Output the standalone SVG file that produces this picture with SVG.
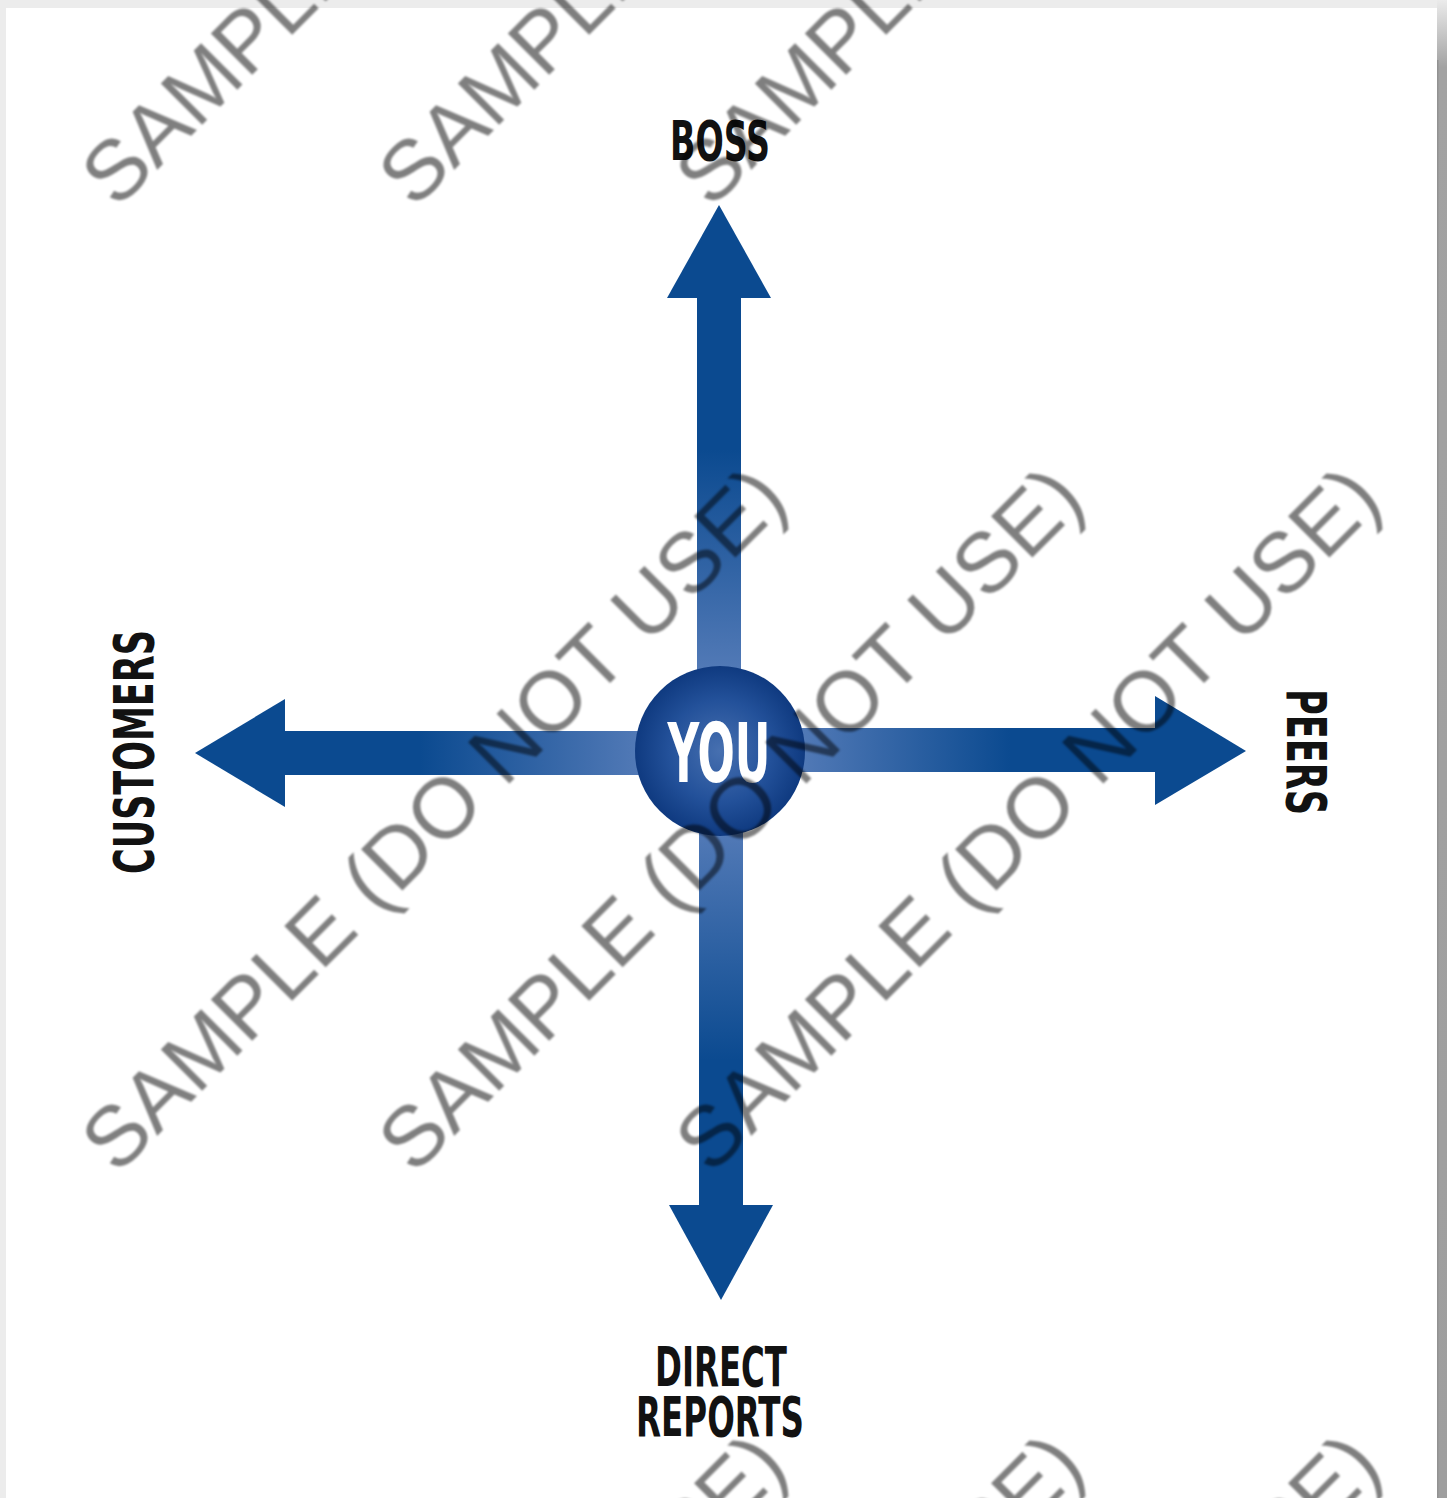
<svg xmlns="http://www.w3.org/2000/svg" width="1447" height="1498" viewBox="0 0 1447 1498">
  <defs>
    <style>
      .lbl { font-family: "Liberation Sans Narrow", "DejaVu Sans Condensed", "Liberation Sans", sans-serif; font-weight: bold; fill: #121212; text-anchor: middle; }
      .you { font-family: "Liberation Sans Narrow", "DejaVu Sans Condensed", "Liberation Sans", sans-serif; font-weight: bold; fill: #ffffff; text-anchor: middle; }
      .wm { font-family: "Liberation Sans", Arial, sans-serif; font-size: 85px; fill: #000000; fill-opacity: 0.5; }
      .head { fill: #0b4a90; }
    </style>
    <linearGradient id="gUp" gradientUnits="userSpaceOnUse" x1="0" y1="668" x2="0" y2="450">
      <stop offset="0" stop-color="#5179b6"/>
      <stop offset="1" stop-color="#0b4a90"/>
    </linearGradient>
    <linearGradient id="gDown" gradientUnits="userSpaceOnUse" x1="0" y1="834" x2="0" y2="1060">
      <stop offset="0" stop-color="#5179b6"/>
      <stop offset="1" stop-color="#0b4a90"/>
    </linearGradient>
    <linearGradient id="gLeft" gradientUnits="userSpaceOnUse" x1="638" y1="0" x2="420" y2="0">
      <stop offset="0" stop-color="#5179b6"/>
      <stop offset="1" stop-color="#0b4a90"/>
    </linearGradient>
    <linearGradient id="gRight" gradientUnits="userSpaceOnUse" x1="802" y1="0" x2="1010" y2="0">
      <stop offset="0" stop-color="#5179b6"/>
      <stop offset="1" stop-color="#0b4a90"/>
    </linearGradient>
    <radialGradient id="gCircle" cx="0.5" cy="0.5" r="0.5">
      <stop offset="0" stop-color="#4770b0"/>
      <stop offset="0.6" stop-color="#23519a"/>
      <stop offset="1" stop-color="#0f3a80"/>
    </radialGradient>
    <linearGradient id="gEdge" x1="0" y1="0" x2="0" y2="1">
      <stop offset="0" stop-color="#ebebeb"/>
      <stop offset="0.045" stop-color="#a2a2a2"/>
      <stop offset="1" stop-color="#9e9e9e"/>
    </linearGradient>
    <filter id="soft" x="-5%" y="-5%" width="110%" height="110%">
      <feGaussianBlur stdDeviation="1.1"/>
    </filter>
    <clipPath id="clipBottom">
      <rect x="0" y="1440" width="1447" height="60"/>
    </clipPath>
  </defs>

  <!-- page -->
  <rect x="0" y="0" width="1447" height="1498" fill="#ececec"/>
  <rect x="6" y="8" width="1431" height="1490" fill="#ffffff"/>
  <rect x="1437" y="0" width="10" height="1498" fill="url(#gEdge)"/>
  <rect x="1437" y="60" width="1.5" height="1438" fill="#929292"/>

  <!-- connectors (arrows) -->
  <g id="connectors">
    <g id="arrow-boss">
      <rect x="697" y="296" width="44" height="400" fill="url(#gUp)"/>
      <polygon class="head" points="719,205 771,298 667,298"/>
    </g>
    <g id="arrow-direct-reports">
      <rect x="699" y="800" width="44" height="407" fill="url(#gDown)"/>
      <polygon class="head" points="721,1300 773,1205 669,1205"/>
    </g>
    <g id="arrow-customers">
      <rect x="283" y="731" width="400" height="44" fill="url(#gLeft)"/>
      <polygon class="head" points="195,753 285,699 285,807"/>
    </g>
    <g id="arrow-peers">
      <rect x="760" y="728" width="397" height="44" fill="url(#gRight)"/>
      <polygon class="head" points="1246,751 1155,696 1155,805"/>
    </g>
  </g>

  <!-- nodes -->
  <g id="node-you">
    <circle cx="720" cy="751" r="85" fill="url(#gCircle)"/>
    <text class="you" x="719" y="782" font-size="82" textLength="103" lengthAdjust="spacingAndGlyphs">YOU</text>
  </g>
  <g id="node-boss">
    <text class="lbl" x="720" y="160" font-size="55" textLength="100" lengthAdjust="spacingAndGlyphs">BOSS</text>
  </g>
  <g id="node-direct-reports">
    <text class="lbl" x="721" y="1386" font-size="55" textLength="132" lengthAdjust="spacingAndGlyphs">DIRECT</text>
    <text class="lbl" x="720" y="1436" font-size="55" textLength="168" lengthAdjust="spacingAndGlyphs">REPORTS</text>
  </g>
  <g id="node-customers">
    <text class="lbl" transform="translate(153,752) rotate(-90)" x="0" y="0" font-size="56" textLength="244" lengthAdjust="spacingAndGlyphs">CUSTOMERS</text>
  </g>
  <g id="node-peers">
    <text class="lbl" transform="translate(1287,752) rotate(90)" x="0" y="0" font-size="55" textLength="126" lengthAdjust="spacingAndGlyphs">PEERS</text>
  </g>

  <!-- watermark -->
  <g id="watermark" filter="url(#soft)">
    <text class="wm" transform="translate(117,210) rotate(-45)">SAMPLE (DO NOT USE)</text>
    <text class="wm" transform="translate(414,210) rotate(-45)">SAMPLE (DO NOT USE)</text>
    <text class="wm" transform="translate(711,210) rotate(-45)">SAMPLE (DO NOT USE)</text>
    <text class="wm" transform="translate(117,1176) rotate(-45)">SAMPLE (DO NOT USE)</text>
    <text class="wm" transform="translate(414,1176) rotate(-45)">SAMPLE (DO NOT USE)</text>
    <text class="wm" transform="translate(711,1176) rotate(-45)">SAMPLE (DO NOT USE)</text>
    <g clip-path="url(#clipBottom)">
      <text class="wm" transform="translate(117,2143) rotate(-45)">SAMPLE (DO NOT USE)</text>
      <text class="wm" transform="translate(414,2143) rotate(-45)">SAMPLE (DO NOT USE)</text>
      <text class="wm" transform="translate(711,2143) rotate(-45)">SAMPLE (DO NOT USE)</text>
    </g>
  </g>
</svg>
